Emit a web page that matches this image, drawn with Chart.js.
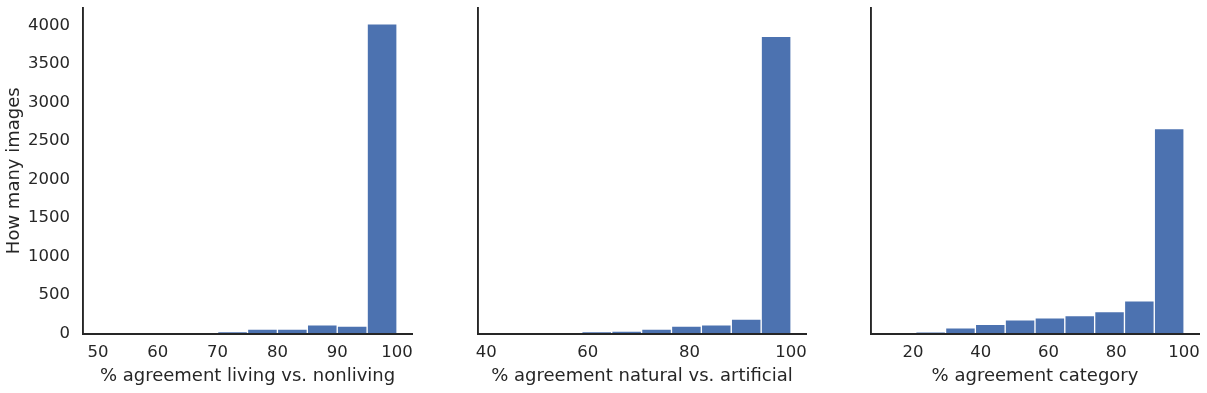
<!DOCTYPE html>
<html>
<head>
<meta charset="utf-8">
<script src="https://cdn.jsdelivr.net/npm/chart.js@4.4.1/dist/chart.umd.min.js"></script>
<style>
  html, body { margin: 0; padding: 0; background: #fff; }
  #wrap { position: relative; width: 1207px; height: 393px; }
  .panel { position: absolute; top: 0; height: 393px; }
</style>
</head>
<body>
<div id="wrap">
  <div class="panel" style="left:0;width:420px"><canvas id="c1"></canvas></div>
  <div class="panel" style="left:470px;width:344px"><canvas id="c2"></canvas></div>
  <div class="panel" style="left:863px;width:344px"><canvas id="c3"></canvas></div>
</div>
<script>
// bin centres and counts
const livingBins   = [52.5, 57.5, 62.5, 67.5, 72.5, 77.5, 82.5, 87.5, 92.5, 97.5];
const livingCounts = [0, 1, 2, 5, 24, 57, 56, 114, 97, 4020];

const naturalBins   = [44.12, 50.0, 55.88, 61.76, 67.65, 73.53, 79.41, 85.29, 91.18, 97.06];
const naturalCounts = [1, 2, 6, 22, 31, 57, 96, 114, 186, 3855];

const categoryBins   = [16.4, 25.2, 34.0, 42.8, 51.6, 60.4, 69.2, 78.0, 86.8, 95.6];
const categoryCounts = [3, 16, 75, 118, 178, 204, 231, 283, 425, 2660];

const yTicks = [0, 500, 1000, 1500, 2000, 2500, 3000, 3500, 4000];
const livingTicks   = [50, 60, 70, 80, 90, 100];
const naturalTicks  = [40, 60, 80, 100];
const categoryTicks = [20, 40, 60, 80, 100];

const INK = '#262626';
const BAR = '#4c72b0';
const FONT = "'DejaVu Sans', sans-serif";

function noPad(s) {
  s.paddingTop = 0; s.paddingBottom = 0; s.paddingLeft = 0; s.paddingRight = 0;
}

function makeHist(id, bins, counts, xMin, xMax, xTicks, xTitle, opts) {
  const canvas = document.getElementById(id);
  return new Chart(canvas, {
    type: 'bar',
    data: {
      datasets: [{
        data: bins.map((x, i) => ({ x, y: counts[i] })),
        backgroundColor: BAR,
        borderColor: '#ffffff',
        borderWidth: 1,
        borderSkipped: 'bottom',
        barPercentage: 1,
        categoryPercentage: 1,
      }],
    },
    options: {
      responsive: true,
      maintainAspectRatio: false,
      animation: false,
      events: [],
      layout: { padding: { top: 8, right: opts.padRight, left: 0, bottom: 0 } },
      plugins: { legend: { display: false }, tooltip: { enabled: false } },
      scales: {
        x: {
          type: 'linear',
          offset: false,
          min: xMin,
          max: xMax,
          grid: { display: false, drawTicks: false },
          border: { display: true, color: INK, width: 1.9, z: 1 },
          afterBuildTicks: s => { s.ticks = xTicks.map(v => ({ value: v })); },
          afterFit: s => { s.height = 59.5; noPad(s); },
          ticks: { color: INK, font: { family: FONT, size: 16.5 }, padding: 9, maxRotation: 0, autoSkip: false,
                   callback: v => String(v) },
          title: { display: true, text: xTitle, color: INK, font: { family: FONT, size: 18 }, padding: { top: 2, bottom: 6 } },
        },
        y: {
          min: 0,
          max: 4224,
          grid: { display: false, drawTicks: false },
          border: { display: true, color: INK, width: 1.9, z: 1 },
          afterBuildTicks: s => { s.ticks = yTicks.map(v => ({ value: v })); },
          afterFit: s => { s.width = opts.yWidth; noPad(s); },
          ticks: { display: opts.showY, color: INK, font: { family: FONT, size: 16.5 }, padding: 13,
                   callback: v => String(v) },
          title: { display: opts.showY, text: 'How many images', color: INK, font: { family: FONT, size: 18 }, padding: 4 },
        },
      },
    },
  });
}

makeHist('c1', livingBins, livingCounts, 47.5, 102.5, livingTicks,
  '% agreement living vs. nonliving', { showY: true, yWidth: 83, padRight: 8 });
makeHist('c2', naturalBins, naturalCounts, 38.4, 102.94, naturalTicks,
  '% agreement natural vs. artificial', { showY: false, yWidth: 8, padRight: 8 });
makeHist('c3', categoryBins, categoryCounts, 7.6, 104.4, categoryTicks,
  '% agreement category', { showY: false, yWidth: 8, padRight: 8 });
</script>
</body>
</html>
